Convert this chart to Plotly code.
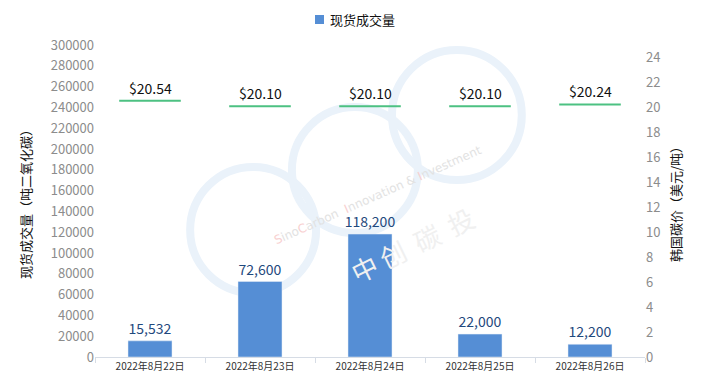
import plotly.graph_objects as go

dates = ["2022年8月22日", "2022年8月23日", "2022年8月24日", "2022年8月25日", "2022年8月26日"]
volumes = [15532, 72600, 118200, 22000, 12200]
prices = [20.54, 20.10, 20.10, 20.10, 20.24]
price_labels = ["$20.54", "$20.10", "$20.10", "$20.10", "$20.24"]
legend_name = "现货成交量"

FONT = "Noto Sans CJK SC"
BAR_COLOR = "#558ed5"

fig = go.Figure()
fig.add_trace(go.Bar(
    x=dates, y=volumes, name=legend_name,
    marker=dict(color=BAR_COLOR),
    text=[f"{v:,}" for v in volumes], textposition="outside", constraintext="none",
    textfont=dict(size=14, color="#1f497d", family=FONT),
    cliponaxis=False, yaxis="y", showlegend=False,
))
fig.add_trace(go.Scatter(
    x=dates, y=prices, mode="markers", yaxis="y2",
    marker=dict(symbol="line-ew", size=44, line=dict(color="#4cc182", width=2)),
    showlegend=False, cliponaxis=False,
))
for d, p, lab in zip(dates, prices, price_labels):
    fig.add_annotation(x=d, y=p, xref="x", yref="y2", text=lab, showarrow=False,
                       yanchor="bottom", yshift=1,
                       font=dict(size=14, color="#111111", family=FONT))

# manual legend
fig.add_shape(type="rect", xref="paper", yref="paper",
              x0=(315 - 95) / 550, x1=(324 - 95) / 550,
              y0=(357 - 24) / 312, y1=(357 - 15) / 312,
              fillcolor=BAR_COLOR, line=dict(width=0))
fig.add_annotation(xref="paper", yref="paper", x=(328 - 95) / 550, y=(357 - 19.5) / 312,
                   xanchor="left", yanchor="middle", text=legend_name, showarrow=False,
                   font=dict(size=13, color="#111111", family=FONT))

# watermark (faint)
circ = dict(type="circle", xref="paper", yref="paper", layer="below",
            line=dict(color="#eaf2fa", width=8))
fig.add_shape(**circ, x0=0.173, x1=0.402, y0=0.205, y1=0.609)
fig.add_shape(**circ, x0=0.358, x1=0.587, y0=0.397, y1=0.801)
fig.add_shape(**circ, x0=0.540, x1=0.776, y0=0.567, y1=0.984)
fig.add_annotation(
    xref="paper", yref="paper", x=(378 - 95) / 550, y=(357 - 195) / 312,
    text="<span style='color:#f8d0d0'>S</span>ino<span style='color:#f8d0d0'>C</span>arbon  "
         "<span style='color:#f8d0d0'>I</span>nnovation &amp; <span style='color:#f8d0d0'>I</span>nvestment",
    textangle=-24, showarrow=False, font=dict(size=12, color="#e2e2e2", family="DejaVu Sans"),
)
fig.add_annotation(
    xref="paper", yref="paper", x=(412 - 95) / 550, y=(357 - 245) / 312,
    text="中 创  碳  投", textangle=-26, showarrow=False,
    font=dict(size=26, color="#f0f0f0", family=FONT),
)

fig.update_layout(
    width=709, height=382,
    margin=dict(l=95, r=64, t=45, b=25),
    paper_bgcolor="white", plot_bgcolor="white",
    font=dict(family=FONT, color="#333333"),
    bargap=0.6,
    showlegend=False,
    xaxis=dict(
        automargin=False,
        showgrid=False, showline=True, linecolor="#d6dce5", linewidth=1,
        ticks="outside", tickson="boundaries", ticklen=5, tickcolor="#d6dce5",
        tickfont=dict(size=10, color="#333333"),
    ),
    yaxis=dict(
        automargin=False,
        range=[0, 300000], dtick=20000, tickformat="d", showgrid=False, zeroline=False,
        showline=False, tickfont=dict(size=13, color="#8c8c8c"),
        title=dict(text="现货成交量（吨二氧化碳）", font=dict(size=13, color="#111111"), standoff=16),
    ),
    yaxis2=dict(
        automargin=False,
        range=[0, 25], dtick=2, overlaying="y", side="right", showgrid=False, zeroline=False,
        showline=False, tickfont=dict(size=13, color="#8c8c8c"),
        title=dict(text="韩国碳价（美元/吨）", font=dict(size=13, color="#111111"), standoff=12),
    ),
)

fig.write_html("out.html", config={"displayModeBar": False},
               post_script="document.body.style.margin='0';")
